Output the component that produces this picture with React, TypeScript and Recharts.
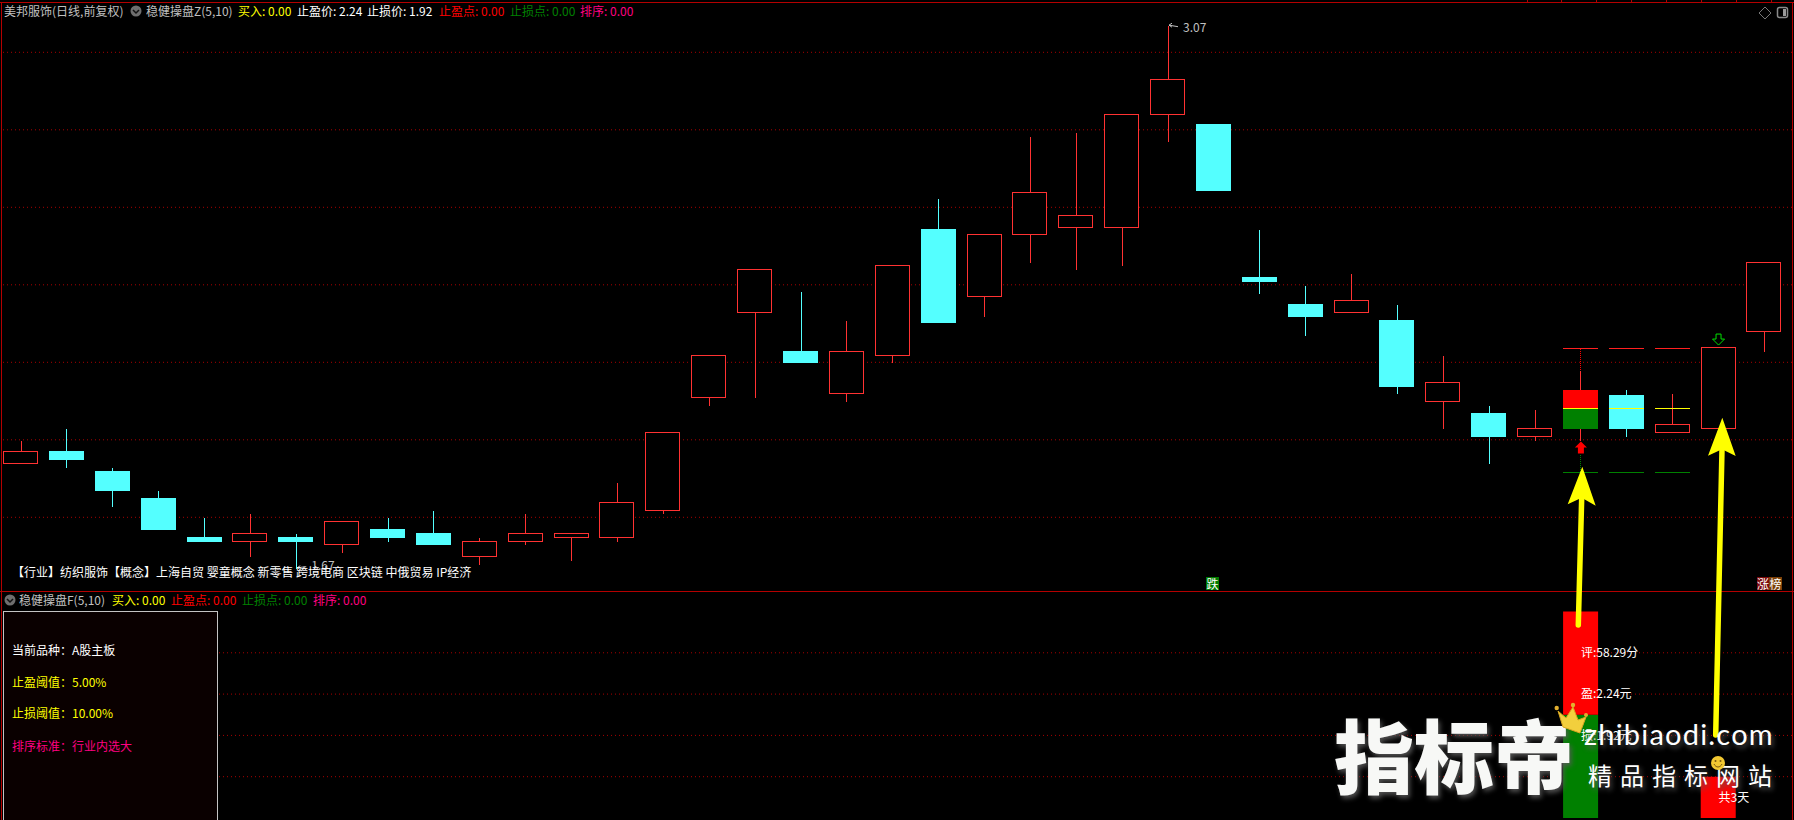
/**
 * 稳健操盘 — daily candles for 美邦服饰 with the score panel underneath.
 */
import { Bar, CartesianGrid, ComposedChart, ReferenceDot, XAxis, YAxis } from "recharts";

const opens = [1.94, 1.97, 1.92, 1.85, 1.75, 1.74, 1.75, 1.73, 1.77, 1.76, 1.7, 1.74, 1.75, 1.75, 1.82, 2.11, 2.33, 2.23, 2.12, 2.22, 2.545, 2.37, 2.53, 2.55, 2.55, 2.84, 2.816, 2.42, 2.35, 2.33, 2.31, 2.1, 2.07, 2.01, 2.03, 2.115, 2.02, 2.03, 2.28];
const closes = [1.97, 1.95, 1.87, 1.77, 1.74, 1.76, 1.74, 1.79, 1.75, 1.73, 1.74, 1.76, 1.76, 1.84, 2.02, 2.22, 2.44, 2.2, 2.23, 2.45, 2.305, 2.53, 2.64, 2.58, 2.84, 2.93, 2.645, 2.41, 2.32, 2.36, 2.14, 2.15, 2.01, 2.03, 2.13, 2.03, 2.04, 2.24, 2.46];
const highs = [2.0, 2.03, 1.93, 1.87, 1.8, 1.81, 1.76, 1.79, 1.8, 1.82, 1.75, 1.81, 1.76, 1.89, 2.02, 2.22, 2.44, 2.385, 2.31, 2.45, 2.625, 2.53, 2.785, 2.795, 2.84, 3.07, 2.816, 2.545, 2.4, 2.43, 2.35, 2.22, 2.09, 2.08, 2.18, 2.13, 2.12, 2.24, 2.46];
const lows = [1.94, 1.93, 1.83, 1.77, 1.74, 1.7, 1.67, 1.71, 1.74, 1.73, 1.68, 1.73, 1.69, 1.74, 1.81, 2.09, 2.11, 2.2, 2.1, 2.2, 2.305, 2.32, 2.46, 2.44, 2.45, 2.77, 2.645, 2.38, 2.27, 2.33, 2.12, 2.03, 1.94, 2.0, 2.0, 2.01, 2.02, 2.03, 2.23];

// holding period: stop lines and the entry line
const holdDays = [34, 35, 36];
const profitLine = 2.236;
const lossLine = 1.916;
const entryLine = 2.081;
const entryDay = 34;
const buyArrowPrice = 1.98;
const sellDay = 37;
const sellArrowPrice = 2.26;

const gridPrices = [1.8, 2.0, 2.2, 2.4, 2.6, 2.8, 3.0];
const priceDomain = [1.6098, 3.1298];
const dayDomain = [-0.392, 38.601];

const panelDays = [34, 37];
const panelRed = [50, 20];
const panelGreen = [50, 0];
const panelGrid = [20, 40, 60, 80];
const panelDomain = [0, 109.44];

const conceptLine = "【行业】纺织服饰【概念】上海自贸 婴童概念 新零售 跨境电商 区块链 中俄贸易 IP经济";

const RED = "#ff3232";
const CYAN = "#54ffff";
const GRID = "#a80000";
const BORDER = "#b40000";
const YELLOW = "#ffff00";
const PINK = "#ff0080";
const GREEN = "#008000";
const FONT = '"Noto Sans CJK SC", sans-serif';

const rows = opens.map((open, i) => ({
  day: i,
  open,
  close: closes[i],
  high: highs[i],
  low: lows[i],
  held: holdDays.includes(i),
}));

const panelRows = panelDays.map((day, i) => ({ day, red: panelRed[i], green: panelGreen[i] }));

function Candle(props: any) {
  const { x, y, width, height, payload } = props;
  const { open, close, high, low, held, day } = payload;
  const perUnit = height / (high - low);
  const toY = (p: number) => Math.round(y + (high - p) * perUnit) + 0.5;
  const up = close >= open;
  const color = up ? RED : CYAN;
  const top = toY(Math.max(open, close));
  const bottom = toY(Math.min(open, close));
  const mid = Math.round(x + width / 2) + 0.5;
  const left = Math.round(x);
  const right = left + Math.round(width);
  const isEntry = day === entryDay;

  return (
    <g shapeRendering="crispEdges">
      {isEntry && (
        <>
          <line x1={mid} x2={mid} y1={toY(profitLine)} y2={toY(high)} stroke="#ff0000" strokeDasharray="1 1" />
          <line x1={mid} x2={mid} y1={toY(buyArrowPrice) + 6} y2={toY(lossLine)} stroke={GREEN} strokeDasharray="1 1" />
        </>
      )}
      <line x1={mid} x2={mid} y1={toY(high)} y2={top} stroke={color} />
      <line x1={mid} x2={mid} y1={bottom} y2={toY(low)} stroke={color} />
      {isEntry ? (
        <>
          <rect x={left} y={top} width={right - left} height={toY(entryLine) - top} fill="#ff0000" />
          <rect x={left} y={toY(entryLine)} width={right - left} height={bottom - toY(entryLine)} fill={GREEN} />
        </>
      ) : up ? (
        <rect x={left + 0.5} y={top} width={right - left - 1} height={bottom - top} fill="#000" stroke={RED} />
      ) : (
        <rect x={left} y={top - 0.5} width={right - left} height={bottom - top + 1} fill={CYAN} />
      )}
      {held && (
        <>
          <line x1={left} x2={right} y1={toY(profitLine)} y2={toY(profitLine)} stroke="#ff2020" />
          <line x1={left} x2={right} y1={toY(lossLine)} y2={toY(lossLine)} stroke={GREEN} />
          <line x1={left} x2={right} y1={toY(entryLine)} y2={toY(entryLine)} stroke={YELLOW} />
        </>
      )}
    </g>
  );
}

// small pointer and price beside the highest / lowest wick
function ExtremeMark(props: any) {
  const { cx, cy, text, dy } = props;
  return (
    <g>
      <path d={`M${cx + 1} ${cy}l9 ${dy / 2}M${cx + 1} ${cy}l3 -2M${cx + 1} ${cy}l3 2`} stroke="#c0c0c0" fill="none" />
      <text x={cx + 15} y={cy + dy + 4} fill="#c0c0c0" fontSize={12} fontFamily={FONT}>
        {text}
      </text>
    </g>
  );
}

function UpArrow({ cx, cy }: any) {
  return (
    <path
      d={`M${cx} ${cy - 6}l6 6h-3v6h-6v-6h-3z`}
      fill="#ff0000"
    />
  );
}

function DownArrow({ cx, cy }: any) {
  return (
    <path
      d={`M${cx - 2.5} ${cy - 5}h5v5h3.5l-6 6l-6 -6h3.5z`}
      fill="none"
      stroke="#00e000"
    />
  );
}

function Txt({ x, y, color, size = 12, children }: any) {
  return (
    <div
      style={{
        position: "absolute",
        left: x,
        top: y - 9,
        height: 18,
        lineHeight: "18px",
        fontSize: size,
        color,
        whiteSpace: "pre",
        fontFamily: FONT,
      }}
    >
      {children}
    </div>
  );
}

function FoldIcon({ x, y }: any) {
  return (
    <svg style={{ position: "absolute", left: x - 6, top: y - 6 }} width={12} height={12}>
      <circle cx={6} cy={6} r={5.5} fill="#6e6e6e" />
      <path d="M3 5l3 3l3 -3" stroke="#111" strokeWidth={1.5} fill="none" />
    </svg>
  );
}

function Badge({ x, w, bg, children }: any) {
  return (
    <div
      style={{
        position: "absolute",
        left: x,
        top: 577,
        width: w,
        height: 13,
        background: bg,
        color: "#fff",
        fontSize: 12,
        lineHeight: "13px",
        textAlign: "center",
        fontFamily: FONT,
      }}
    >
      {children}
    </div>
  );
}

function Pointer({ tip, left, right, notch, tail }: any) {
  return (
    <g>
      <line x1={notch[0]} y1={notch[1]} x2={tail[0]} y2={tail[1]} stroke={YELLOW} strokeWidth={5.5} strokeLinecap="round" />
      <polygon
        points={`${tip[0]},${tip[1]} ${right[0]},${right[1]} ${notch[0]},${notch[1]} ${left[0]},${left[1]}`}
        fill={YELLOW}
      />
    </g>
  );
}

function Overlay() {
  const ticks = [1527, 1561, 1596, 1631, 1666, 1701, 1736, 1771];
  return (
    <svg style={{ position: "absolute", left: 0, top: 0 }} width={1794} height={820}>
      <g shapeRendering="crispEdges" stroke={BORDER} fill="none">
        <line x1={0} x2={1794} y1={2.5} y2={2.5} />
        <line x1={1.5} x2={1.5} y1={2} y2={820} />
        <line x1={1792.5} x2={1792.5} y1={2} y2={820} />
        <line x1={0} x2={1794} y1={591.5} y2={591.5} />
        {ticks.map((t) => (
          <line key={t} x1={t + 0.5} x2={t + 0.5} y1={0} y2={3} />
        ))}
      </g>
      <path d="M1765 7l6 6l-6 6l-6 -6z" fill="none" stroke="#777" />
      <rect x={1777.5} y={7.5} width={10} height={10} rx={2} fill="none" stroke="#8a8a8a" strokeWidth={1.5} />
      <rect x={1783} y={9} width={3} height={7} fill="#999" />
      <Pointer tip={[1582.3, 466.7]} left={[1567.7, 504.3]} right={[1595.7, 505.7]} notch={[1581.7, 497.7]} tail={[1578.3, 625]} />
      <Pointer tip={[1722.3, 417.7]} left={[1708, 455.7]} right={[1735.7, 456]} notch={[1722, 449.3]} tail={[1715.7, 735]} />
    </svg>
  );
}

function Watermark() {
  const shadow = "2px 3px 5px rgba(90,90,90,0.9)";
  return (
    <>
      <div
        style={{
          position: "absolute",
          left: 1334,
          top: 700,
          fontSize: 80,
          lineHeight: "104px",
          fontWeight: 900,
          color: "#f7f8f6",
          fontFamily: FONT,
          textShadow: shadow,
          whiteSpace: "pre",
        }}
      >
        指标帝
      </div>
      <div
        style={{
          position: "absolute",
          left: 1584,
          top: 716,
          fontSize: 29,
          lineHeight: "36px",
          letterSpacing: 1.2,
          color: "#fff",
          fontFamily: "Lato, sans-serif",
          textShadow: shadow,
          whiteSpace: "pre",
        }}
      >
        zhibiaodi.com
      </div>
      <div
        style={{
          position: "absolute",
          left: 1588,
          top: 759,
          fontSize: 24,
          lineHeight: "32px",
          letterSpacing: 8,
          color: "#fff",
          fontFamily: FONT,
          textShadow: shadow,
          whiteSpace: "pre",
        }}
      >
        精品指标网站
      </div>
      <svg style={{ position: "absolute", left: 1550, top: 695 }} width={50} height={45}>
        <polygon points="8,16 16,23 23,12 28,25 36,22 30,38 13,32" fill="#f2cf3d" stroke="#d9a520" />
        <circle cx={6.7} cy={13} r={2.2} fill="#e2b030" />
        <circle cx={23} cy={10} r={2.2} fill="#e2b030" />
        <circle cx={36} cy={20} r={2} fill="#e2b030" />
      </svg>
      <svg style={{ position: "absolute", left: 1710, top: 755 }} width={16} height={16}>
        <circle cx={8} cy={8} r={7} fill="#f2c832" />
        <path d="M4 9c2 4 6 4 8 0" stroke="#7a5a10" fill="none" />
        <circle cx={5.5} cy={6} r={1} fill="#7a5a10" />
        <circle cx={10.5} cy={6} r={1} fill="#7a5a10" />
      </svg>
    </>
  );
}

export default function App() {
  return (
    <div style={{ position: "absolute", left: 0, top: 0, width: 1794, height: 820, background: "#000", overflow: "hidden" }}>
      {/* price panel */}
      <div style={{ position: "absolute", left: 3, top: 2 }}>
        <ComposedChart width={1789} height={589} data={rows} margin={{ top: 0, right: 0, bottom: 0, left: 0 }}>
          <CartesianGrid horizontal vertical={false} horizontalValues={gridPrices} stroke={GRID} strokeDasharray="1 3" />
          <XAxis dataKey="day" type="number" domain={dayDomain} hide allowDataOverflow />
          <YAxis type="number" domain={priceDomain} hide allowDataOverflow />
          <Bar dataKey={(d: any) => [d.low, d.high]} barSize={35} shape={Candle} isAnimationActive={false} />
          <ReferenceDot x={25} y={3.07} shape={(p: any) => <ExtremeMark {...p} text="3.07" dy={3} />} />
          <ReferenceDot x={6} y={1.67} shape={(p: any) => <ExtremeMark {...p} text="1.67" dy={-2} />} />
          <ReferenceDot x={entryDay} y={buyArrowPrice} shape={(p: any) => <UpArrow {...p} />} />
          <ReferenceDot x={sellDay} y={sellArrowPrice} shape={(p: any) => <DownArrow {...p} />} />
        </ComposedChart>
      </div>

      {/* score panel */}
      <div style={{ position: "absolute", left: 3, top: 592 }}>
        <ComposedChart width={1789} height={226} data={panelRows} margin={{ top: 0, right: 0, bottom: 0, left: 0 }}>
          <CartesianGrid horizontal vertical={false} horizontalValues={panelGrid} stroke={GRID} strokeDasharray="1 3" />
          <XAxis dataKey="day" type="number" domain={dayDomain} hide allowDataOverflow />
          <YAxis type="number" domain={panelDomain} hide allowDataOverflow />
          <Bar dataKey="green" stackId="s" barSize={35} fill={GREEN} isAnimationActive={false} />
          <Bar dataKey="red" stackId="s" barSize={35} fill="#ff0000" isAnimationActive={false} />
          <ReferenceDot x={entryDay} y={80} r={0} label={{ value: "评:58.29分", position: "right", offset: 0, fill: "#fff", fontSize: 12, fontFamily: FONT }} />
          <ReferenceDot x={entryDay} y={60} r={0} label={{ value: "盈:2.24元", position: "right", offset: 0, fill: "#fff", fontSize: 12, fontFamily: FONT }} />
          <ReferenceDot x={entryDay} y={40} r={0} label={{ value: "损:1.92元", position: "right", offset: 0, fill: "#fff", fontSize: 12, fontFamily: FONT }} />
          <ReferenceDot x={sellDay} y={10} r={0} label={{ value: "共3天", position: "right", offset: 0, fill: "#fff", fontSize: 12, fontFamily: FONT }} />
        </ComposedChart>
      </div>

      {/* top header */}
      <Txt x={4} y={11} color="#c0c0c0">美邦服饰(日线,前复权)</Txt>
      <FoldIcon x={136} y={11} />
      <Txt x={146} y={11} color="#c0c0c0">稳健操盘Z(5,10)</Txt>
      <Txt x={238} y={11} color={YELLOW}>买入: 0.00</Txt>
      <Txt x={297} y={11} color="#fff">止盈价: 2.24</Txt>
      <Txt x={367} y={11} color="#fff">止损价: 1.92</Txt>
      <Txt x={439} y={11} color="#ff0000">止盈点: 0.00</Txt>
      <Txt x={510} y={11} color={GREEN}>止损点: 0.00</Txt>
      <Txt x={580} y={11} color={PINK}>排序: 0.00</Txt>

      <Txt x={12} y={572} color="#fff">{conceptLine}</Txt>
      <Badge x={1206} w={13} bg="#007a00">跌</Badge>
      <Badge x={1757} w={12} bg="#7a0a0a">涨</Badge>
      <Badge x={1769} w={13} bg="#7a3f08">榜</Badge>

      {/* lower header */}
      <FoldIcon x={10} y={600} />
      <Txt x={19} y={600} color="#c0c0c0">稳健操盘F(5,10)</Txt>
      <Txt x={112} y={600} color={YELLOW}>买入: 0.00</Txt>
      <Txt x={171} y={600} color="#ff0000">止盈点: 0.00</Txt>
      <Txt x={242} y={600} color={GREEN}>止损点: 0.00</Txt>
      <Txt x={313} y={600} color={PINK}>排序: 0.00</Txt>

      {/* settings box */}
      <div
        style={{
          position: "absolute",
          left: 3,
          top: 611,
          width: 213,
          height: 220,
          background: "#0a0000",
          border: "1px solid #c4c4c4",
        }}
      />
      <Txt x={12} y={650} color="#fff">当前品种：A股主板</Txt>
      <Txt x={12} y={682} color={YELLOW}>止盈阈值：5.00%</Txt>
      <Txt x={12} y={713} color={YELLOW}>止损阈值：10.00%</Txt>
      <Txt x={12} y={746} color={PINK}>排序标准：行业内选大</Txt>

      <Overlay />
      <Watermark />
    </div>
  );
}
